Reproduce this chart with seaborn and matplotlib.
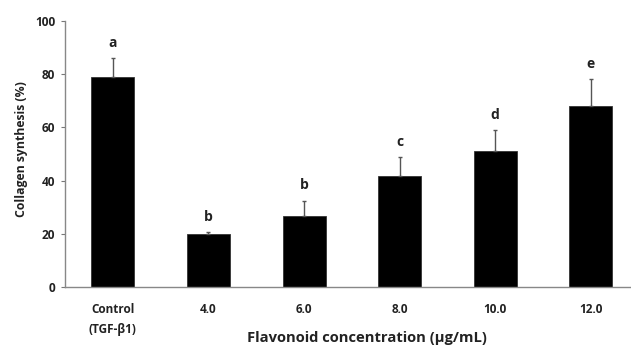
import matplotlib
matplotlib.use("Agg")
import matplotlib.pyplot as plt
import seaborn as sns
import pandas as pd
import numpy as np

categories = ["Control\n(TGF-β1)", "4.0", "6.0", "8.0", "10.0", "12.0"]
values = [79.0, 20.0, 26.7, 41.7, 51.2, 68.1]
errors = [6.9, 0.6, 5.8, 7.0, 7.8, 10.0]
letters = ["a", "b", "b", "c", "d", "e"]
yticks = [0, 20, 40, 60, 80, 100]

sns.set_theme(style="white")
plt.rcParams["font.family"] = ["Open Sans", "DejaVu Sans"]
plt.rcParams["font.weight"] = "bold"

df = pd.DataFrame({"cat": categories, "val": values})

fig = plt.figure(figsize=(6.31, 3.48), dpi=100)
ax = fig.add_axes([0.103, 0.1744, 0.897, 0.7661])

sns.barplot(data=df, x="cat", y="val", color="black", width=0.45,
            errorbar=None, ax=ax, saturation=1, edgecolor="#333333", linewidth=0.6)

x = np.arange(len(categories))
ax.errorbar(x, values, yerr=[np.zeros(len(values)), errors], fmt="none",
            ecolor="#555555", elinewidth=1.0, capsize=1.2, capthick=1.0)

for xi, v, e, l in zip(x, values, errors, letters):
    ax.annotate(l, (xi, v + e), xytext=(0, 6), textcoords="offset points",
                ha="center", va="bottom", fontsize=10, fontweight="bold", color="#222222")

ax.set_ylim(0, 100)
ax.set_xlim(-0.5, 5.42)
ax.set_yticks(yticks)
ax.set_yticklabels([str(t) for t in yticks], fontsize=8.6, fontweight="bold", color="#222222")
ax.set_xticks(x)
ax.set_xticklabels(categories, fontsize=8.5, fontweight="bold", color="#222222")
for lab in ax.get_xticklabels():
    lab.set_linespacing(1.75)

ax.tick_params(axis="y", which="both", left=True, length=3, width=0.8, color="#777777", pad=4)
ax.tick_params(axis="x", which="both", bottom=False, pad=5)

for s in ["top", "right"]:
    ax.spines[s].set_visible(False)
for s in ["left", "bottom"]:
    ax.spines[s].set_color("#888888")
    ax.spines[s].set_linewidth(1.0)

ax.set_xlabel("Flavonoid concentration (μg/mL)", fontsize=10.6, fontweight="bold", color="#222222")
ax.xaxis.label.set_va("center")
ax.xaxis.set_label_coords(0.533, -0.19)
ax.set_ylabel("Collagen synthesis (%)", fontsize=8.8, fontweight="bold", color="#222222")
ax.yaxis.label.set_va("center")
ax.yaxis.set_label_coords(-0.077, 0.52)

fig.savefig("out.png", dpi=100)
